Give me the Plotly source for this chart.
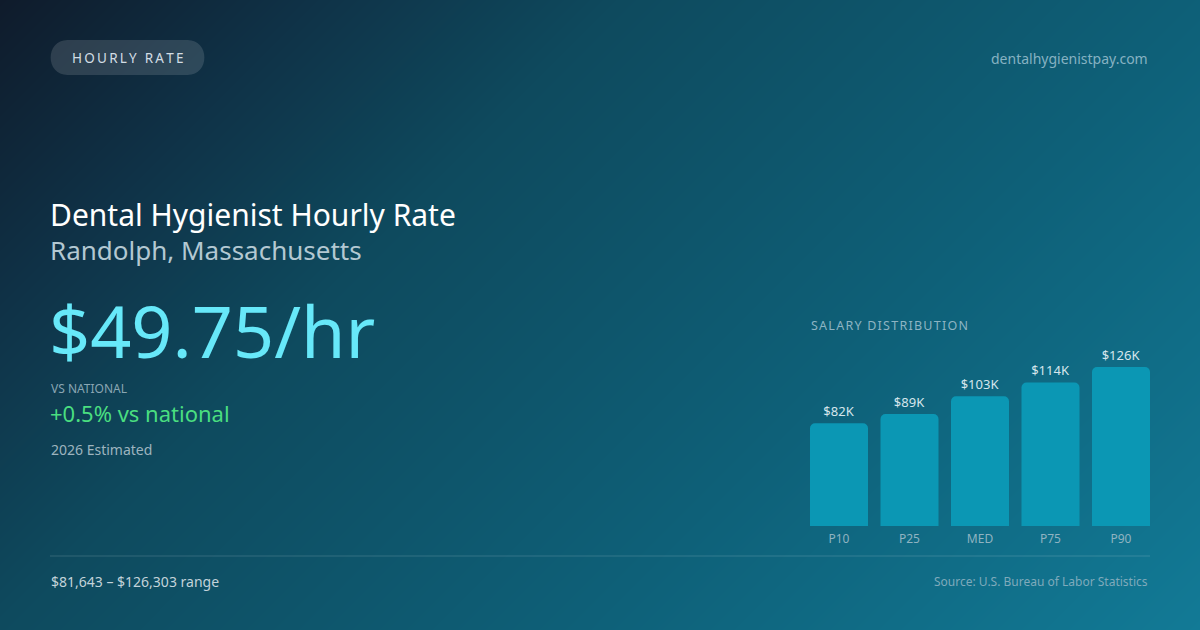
import plotly.graph_objects as go

# salary distribution (thousands of USD)
percentiles = ['P10', 'P25', 'MED', 'P75', 'P90']
salaries_k = [81.643, 89.0, 103.0, 114.0, 126.303]
bar_labels = ['$82K', '$89K', '$103K', '$114K', '$126K']

hourly = '$49.75/hr'
vs_national = '+0.5% vs national'
range_text = '$81,643 – $126,303 range'

# background gradient corners (diagonal)
bg_x = [0, 1200]
bg_y = [0, 630]
bg_z = [[0.0, 0.656], [0.344, 1.0]]

FONT = 'Noto Sans'

fig = go.Figure()

# background on x/y (pixel coords), bars on x2/y2 so they sit on top
fig.add_trace(go.Heatmap(x=bg_x, y=bg_y, z=bg_z, zsmooth='best', showscale=False,
                         hoverinfo='skip',
                         colorscale=[[0, '#0f1b2b'], [0.17, '#0f3247'], [0.34, '#0e4a5e'],
                                     [0.66, '#0e6078'], [1, '#127a96']]))

bar_w = 58 / 70.5
fig.add_trace(go.Bar(x=percentiles, y=salaries_k, text=bar_labels, textposition='outside',
                     cliponaxis=False, xaxis='x2', yaxis='y2', width=bar_w,
                     marker=dict(color='#0b97b4', cornerradius=5, line_width=0),
                     textfont=dict(family=FONT, size=13, color='#d6e6ec'),
                     hoverinfo='skip'))


def txt(x, y, s, size, color, anchor='left'):
    fig.add_annotation(x=x, y=y, xref='x', yref='y', text=s, showarrow=False,
                       xanchor=anchor, yanchor='middle',
                       font=dict(family=FONT, size=size, color=color))


ts = '\u2009'
hs = '\u200a'
txt(127, 58, ts.join('HOURLY RATE'), 13.5, '#d2dde4', 'center')
txt(1150, 58, 'dentalhygienistpay.com', 14, '#86b2c2', 'right')
txt(48, 214, 'Dental Hygienist Hourly Rate', 30, '#ffffff')
txt(48, 250, 'Randolph, Massachusetts', 26, '#b3c8d2')
txt(47, 330, hourly, 72, '#67e8f9')
txt(49, 388, 'VS NATIONAL', 12, '#8aa6b3')
txt(48, 413, vs_national, 22, '#4ade80')
txt(49, 449, '2026 Estimated', 14, '#9db4bf')
txt(809, 325, hs.join('SALARY DISTRIBUTION'), 12.5, '#8db4c3')
txt(49, 581, range_text, 14, '#c3d3da')
txt(1150, 581, 'Source: U.S. Bureau of Labor Statistics', 12, '#7faabb', 'right')

# pill behind the tag
x0, x1, y0, y1, r = 50, 205, 40, 75, 17.5
pill = (f'M {x0+r},{y0} L {x1-r},{y0} C {x1+5},{y0} {x1+5},{y1} {x1-r},{y1} '
        f'L {x0+r},{y1} C {x0-5},{y1} {x0-5},{y0} {x0+r},{y0} Z')
fig.add_shape(type='path', path=pill, xref='x', yref='y', line_width=0,
              fillcolor='rgba(255,255,255,0.13)')
fig.add_shape(type='line', x0=50, x1=1150, y0=556, y1=556, xref='x', yref='y',
              line=dict(color='rgba(255,255,255,0.16)', width=1))

fig.update_layout(
    width=1200, height=630, margin=dict(l=0, r=0, t=0, b=0),
    paper_bgcolor='#0d3b50', plot_bgcolor='rgba(0,0,0,0)', showlegend=False,
    xaxis=dict(range=[0, 1200], domain=[0, 1], visible=False, fixedrange=True),
    yaxis=dict(range=[630, 0], domain=[0, 1], visible=False, fixedrange=True),
    xaxis2=dict(domain=[810 / 1200, 1150 / 1200], anchor='y2', showgrid=False,
                range=[-bar_w / 2, 4 + bar_w / 2], ticklabelstandoff=4,
                showline=False, ticks='', zeroline=False, fixedrange=True,
                tickfont=dict(family=FONT, size=12, color='#8fb3c1')),
    yaxis2=dict(domain=[(630 - 526) / 630, (630 - 367) / 630], range=[0, 126.303],
                anchor='x2', visible=False, fixedrange=True),
)

fig.write_html('out.html', config={'displayModeBar': False},
               post_script="document.body.style.margin='0';")
